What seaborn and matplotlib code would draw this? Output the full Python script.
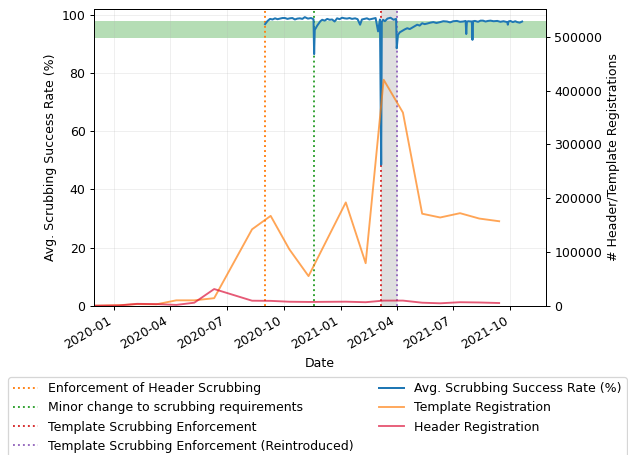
"""Scrubbing success rate vs. header/template registrations."""

import matplotlib
matplotlib.use("Agg")
import matplotlib.pyplot as plt
import matplotlib.dates as mdates
import pandas as pd
import seaborn as sns


# Monthly registration counts
MONTHS = ["2019-12-01", "2020-01-10", "2020-02-08", "2020-03-10", "2020-04-11",
          "2020-05-10", "2020-06-11", "2020-08-11", "2020-09-10", "2020-10-10",
          "2020-11-10", "2021-01-09", "2021-02-10", "2021-03-11", "2021-04-11",
          "2021-05-12", "2021-06-10", "2021-07-12", "2021-08-12", "2021-09-13"]
TEMPLATE_REG = [0, 1000, 3000, 2600, 10000,
                10000, 14000, 142000, 167000, 105000,
                55000, 192000, 79000, 420000, 359000,
                171000, 164000, 172000, 162000, 157000]
HEADER_REG = [0, 500, 3500, 3000, 1500,
              5600, 31000, 9300, 9000, 7400,
              7000, 7500, 6500, 9500, 9500,
              5600, 4500, 6500, 6000, 5000]

# Avg. scrubbing success rate (%)
RATE_DATES = ["2020-09-01", "2020-09-05", "2020-09-09", "2020-09-13", "2020-09-17",
              "2020-09-21", "2020-09-25", "2020-09-29", "2020-10-03", "2020-10-07",
              "2020-10-11", "2020-10-15", "2020-10-19", "2020-10-23", "2020-10-27",
              "2020-10-31", "2020-11-04", "2020-11-09", "2020-11-14", "2020-11-18",
              "2020-11-19", "2020-11-20", "2020-11-24", "2020-11-29", "2020-12-02",
              "2020-12-06", "2020-12-10", "2020-12-14", "2020-12-18", "2020-12-22",
              "2020-12-26", "2020-12-30", "2021-01-03", "2021-01-07", "2021-01-11",
              "2021-01-15", "2021-01-19", "2021-01-24", "2021-01-28", "2021-02-01",
              "2021-02-04", "2021-02-08", "2021-02-12", "2021-02-16", "2021-02-20",
              "2021-02-26", "2021-03-02", "2021-03-05", "2021-03-07", "2021-03-08",
              "2021-03-10", "2021-03-13", "2021-03-17", "2021-03-22", "2021-03-27",
              "2021-03-31", "2021-04-01", "2021-04-03", "2021-04-06", "2021-04-10",
              "2021-04-14", "2021-04-18", "2021-04-22", "2021-04-26", "2021-04-30",
              "2021-05-04", "2021-05-08", "2021-05-12", "2021-05-16", "2021-05-20",
              "2021-05-25", "2021-05-30", "2021-06-04", "2021-06-10", "2021-06-15",
              "2021-06-21", "2021-06-26", "2021-07-01", "2021-07-07", "2021-07-12",
              "2021-07-17", "2021-07-21", "2021-07-22", "2021-07-23", "2021-07-25",
              "2021-07-31", "2021-08-01", "2021-08-02", "2021-08-05", "2021-08-10",
              "2021-08-14", "2021-08-18", "2021-08-22", "2021-08-26", "2021-08-30",
              "2021-09-04", "2021-09-10", "2021-09-15", "2021-09-20", "2021-09-26",
              "2021-09-27", "2021-09-28", "2021-10-01", "2021-10-05", "2021-10-09",
              "2021-10-12", "2021-10-16", "2021-10-20"]
RATE = [96.8, 97.9, 98.6, 98.4, 98.8,
        98.5, 98.7, 98.9, 98.9, 98.6,
        98.8, 98.9, 98.4, 98.7, 98.8,
        98.6, 99.2, 98.7, 98.9, 98.5,
        86.5, 94.8, 96.3, 97.8, 98.3,
        98.0, 98.6, 98.3, 98.4, 97.7,
        98.8, 98.5, 99.0, 98.8, 98.7,
        98.9, 98.6, 98.8, 98.5, 96.6,
        98.4, 98.6, 98.8, 98.4, 98.6,
        98.9, 94.3, 98.4, 48.5, 97.5,
        98.3, 97.8, 98.7, 99.0, 98.3,
        98.6, 88.5, 93.1, 94.0, 94.5,
        95.0, 95.4, 95.1, 95.6, 96.1,
        96.6, 96.3, 97.1, 96.8, 97.0,
        97.3, 97.5, 97.2, 97.5, 97.8,
        97.7, 97.4, 97.8, 97.9, 97.6,
        97.7, 97.9, 93.4, 97.6, 97.8,
        97.7, 91.4, 97.8, 97.9, 97.6,
        98.0, 98.0, 97.7, 97.9, 98.0,
        97.8, 97.9, 97.6, 97.8, 97.5,
        96.6, 97.7, 97.9, 97.5, 97.8,
        97.5, 97.3, 97.7]

EVENTS = ["2020-09-01", "2020-11-19", "2021-03-07", "2021-04-01"]
EVENT_LABELS = ["Enforcement of Header Scrubbing",
                "Minor change to scrubbing requirements",
                "Template Scrubbing Enforcement",
                "Template Scrubbing Enforcement (Reintroduced)"]
EVENT_COLORS = ["tab:orange", "tab:green", "tab:red", "tab:purple"]

months = pd.to_datetime(MONTHS)
rate_dates = pd.to_datetime(RATE_DATES)
events = pd.to_datetime(EVENTS)

DPI = 90
fig = plt.figure(figsize=(628 / DPI, 455 / DPI), dpi=DPI)
ax1 = fig.add_axes([0.1502, 0.3281, 0.7188, 0.6521])
ax2 = ax1.twinx()

# Target band and enforcement gap
ax1.axhspan(92, 98, color="tab:green", alpha=0.35, lw=0)
ax1.axvspan(events[2], events[3], color="gray", alpha=0.25, lw=0)
for date, label, color in zip(events, EVENT_LABELS, EVENT_COLORS):
  ax1.axvline(date, color=color, ls=":", lw=1.5, label=label)

sns.lineplot(x=rate_dates, y=RATE, ax=ax1, color="tab:blue", lw=1.6,
    label="Avg. Scrubbing Success Rate (%)")
sns.lineplot(x=months, y=TEMPLATE_REG, ax=ax2, color="tab:orange", alpha=0.7,
    lw=1.5, label="Template Registration")
sns.lineplot(x=months, y=HEADER_REG, ax=ax2, color="crimson", alpha=0.7,
    lw=1.5, label="Header Registration")

ax1.set_ylim(0, 102)
ax2.set_ylim(0, 551500)
ax1.set_xlim(pd.Timestamp("2019-12-01"), pd.Timestamp("2021-11-27"))
ax1.grid(True, alpha=0.2)
ax1.set_xlabel("Date")
ax1.set_ylabel("Avg. Scrubbing Success Rate (%)")
ax2.set_ylabel("# Header/Template Registrations")
ax2.ticklabel_format(axis="y", style="plain")

ax1.xaxis.set_major_locator(mdates.MonthLocator(bymonth=[1, 4, 7, 10]))
ax1.xaxis.set_major_formatter(mdates.DateFormatter("%Y-%m"))
for lbl in ax1.get_xticklabels():
  lbl.set_rotation(30)
  lbl.set_ha("right")

h1, l1 = ax1.get_legend_handles_labels()
h2, l2 = ax2.get_legend_handles_labels()
for ax in (ax1, ax2):
  if ax.get_legend() is not None:
    ax.get_legend().remove()
fig.legend(h1 + h2, l1 + l2, ncol=2, loc="upper center",
    bbox_to_anchor=(0.5056, 0.1714), borderaxespad=0, fontsize=10)

fig.savefig("out.png", dpi=DPI)
